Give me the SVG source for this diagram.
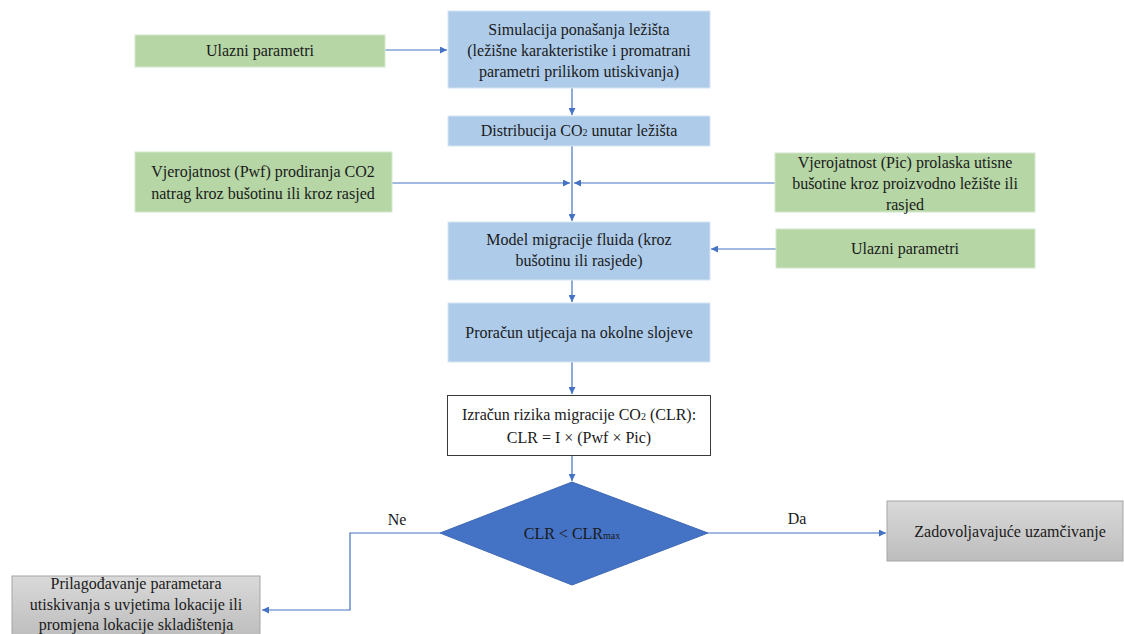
<svg xmlns="http://www.w3.org/2000/svg" width="1124" height="634" viewBox="0 0 1124 634">
<defs>
<style>
.t{font-family:"Liberation Serif","Times New Roman","DejaVu Serif",serif;font-size:16px;fill:#1a1a1a;text-anchor:middle}
.blue{fill:#AECCEA;stroke:#D6E4F3;stroke-width:1}
.green{fill:#B6D6A6;stroke:#D4E8CB;stroke-width:1}
.gray{fill:url(#gg);stroke:#A6A6A6;stroke-width:1}
.c{fill:none;stroke:#4472C4;stroke-width:1.2}
.sub{font-size:10px}
</style>
<linearGradient id="gg" x1="0" y1="0" x2="0" y2="1">
<stop offset="0" stop-color="#D9D9D9"/>
<stop offset="1" stop-color="#BDBDBD"/>
</linearGradient>
<marker id="ar" viewBox="0 0 10 10" refX="10" refY="5" markerWidth="7" markerHeight="7" orient="auto" markerUnits="userSpaceOnUse">
<path d="M0,0 L10,5 L0,10 z" fill="#4472C4"/>
</marker>
</defs>
<rect width="1124" height="634" fill="#ffffff"/>

<g id="connectors">
<path class="c" d="M385,50 H447" marker-end="url(#ar)"/>
<path class="c" d="M572,88 V115" marker-end="url(#ar)"/>
<path class="c" d="M572,146 V221" marker-end="url(#ar)"/>
<path class="c" d="M392,183 H570" marker-end="url(#ar)"/>
<path class="c" d="M775,183 H574" marker-end="url(#ar)"/>
<path class="c" d="M776,249 H711" marker-end="url(#ar)"/>
<path class="c" d="M572,280 V302" marker-end="url(#ar)"/>
<path class="c" d="M572,362 V394" marker-end="url(#ar)"/>
<path class="c" d="M572,455 V481" marker-end="url(#ar)"/>
<path class="c" d="M440,533 H350 V610 H262" marker-end="url(#ar)"/>
<path class="c" d="M708,533 H886" marker-end="url(#ar)"/>
<text class="t" x="397" y="525">Ne</text>
<text class="t" x="797" y="524">Da</text>
</g>

<g id="n_ulazni1">
<rect class="green" x="135" y="35" width="250" height="32"/>
<text class="t" x="260" y="56">Ulazni parametri</text>
</g>

<g id="n_simulacija">
<rect class="blue" x="448" y="11" width="262" height="77"/>
<text class="t" x="579" y="35">Simulacija ponašanja ležišta</text>
<text class="t" x="579" y="56">(ležišne karakteristike i promatrani</text>
<text class="t" x="579" y="77">parametri prilikom utiskivanja)</text>
</g>

<g id="n_distribucija">
<rect class="blue" x="448" y="116" width="262" height="30"/>
<text class="t" x="579" y="136">Distribucija CO<tspan class="sub">2</tspan> unutar ležišta</text>
</g>

<g id="n_pwf">
<rect class="green" x="135" y="152" width="257" height="60"/>
<text class="t" x="263" y="177">Vjerojatnost (Pwf) prodiranja CO2</text>
<text class="t" x="263" y="199">natrag kroz bušotinu ili kroz rasjed</text>
</g>

<g id="n_pic">
<rect class="green" x="775" y="153" width="260" height="59"/>
<text class="t" x="905" y="168">Vjerojatnost (Pic) prolaska utisne</text>
<text class="t" x="905" y="189">bušotine kroz proizvodno ležište ili</text>
<text class="t" x="905" y="210">rasjed</text>
</g>

<g id="n_model">
<rect class="blue" x="448" y="222" width="262" height="58"/>
<text class="t" x="579" y="245">Model migracije fluida (kroz</text>
<text class="t" x="579" y="266">bušotinu ili rasjede)</text>
</g>

<g id="n_ulazni2">
<rect class="green" x="776" y="229" width="259" height="39"/>
<text class="t" x="905" y="254">Ulazni parametri</text>
</g>

<g id="n_proracun">
<rect class="blue" x="448" y="303" width="262" height="59"/>
<text class="t" x="579" y="338">Proračun utjecaja na okolne slojeve</text>
</g>

<g id="n_izracun">
<rect x="447.5" y="395.5" width="263" height="60" fill="#ffffff" stroke="#3a3a3a" stroke-width="1"/>
<text class="t" x="579" y="420">Izračun rizika migracije CO<tspan class="sub">2</tspan> (CLR):</text>
<text class="t" x="579" y="443">CLR = I × (Pwf × Pic)</text>
</g>

<g id="n_odluka">
<polygon points="572,482 708,533 572,585 440,533" fill="#4472C4" stroke="#3F68B4" stroke-width="1"/>
<text class="t" x="572" y="539">CLR &lt; CLR<tspan class="sub">max</tspan></text>
</g>

<g id="n_zadovoljavajuce">
<rect class="gray" x="887" y="501" width="236" height="60"/>
<text class="t" x="1010" y="537">Zadovoljavajuće uzamčivanje</text>
</g>

<g id="n_prilagodavanje">
<rect class="gray" x="12" y="576" width="248" height="62"/>
<text class="t" x="136" y="589">Prilagođavanje parametara</text>
<text class="t" x="136" y="610">utiskivanja s uvjetima lokacije ili</text>
<text class="t" x="136" y="630">promjena lokacije skladištenja</text>
</g>
</svg>
